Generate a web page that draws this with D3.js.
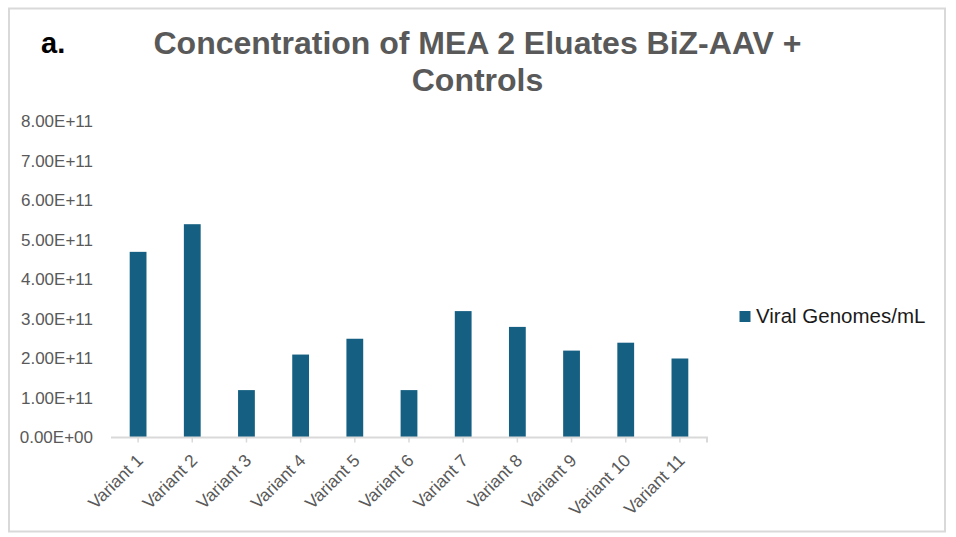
<!DOCTYPE html>
<html><head><meta charset="utf-8">
<script src="https://cdn.jsdelivr.net/npm/d3@7"></script>
<style>body{margin:0;background:#fff;}svg{display:block;}</style>
</head><body>
<script>
const categories = ["Variant 1","Variant 2","Variant 3","Variant 4","Variant 5","Variant 6","Variant 7","Variant 8","Variant 9","Variant 10","Variant 11"];
const values = [4.7e11,5.4e11,1.2e11,2.1e11,2.5e11,1.2e11,3.2e11,2.8e11,2.2e11,2.4e11,2.0e11];
const yTicks = [0,1e11,2e11,3e11,4e11,5e11,6e11,7e11,8e11];
const seriesName = "Viral Genomes/mL";
const titleLines = ["Concentration of MEA 2 Eluates BiZ-AAV +","Controls"];
const panelLabel = "a.";

const W=956,H=537;
const svg=d3.select("body").append("svg").attr("width",W).attr("height",H);
svg.append("rect").attr("x",9).attr("y",8.5).attr("width",936).attr("height",523)
  .attr("fill","#fff").attr("stroke","#d9d9d9").attr("stroke-width",2);

const x=d3.scaleBand().domain(categories).range([111,707]).paddingInner(0.69).paddingOuter(0.345);
const y=d3.scaleLinear().domain([0,8e11]).range([437.5,121.5]);

svg.append("g").selectAll("rect").data(values).join("rect")
  .attr("x",(d,i)=>x(categories[i])).attr("width",x.bandwidth())
  .attr("y",d=>y(d)).attr("height",d=>y(0)-y(d)).attr("fill","#156082");

const fmt=v=>{ if(v===0) return "0.00E+00"; const e=Math.floor(Math.log10(v)); return (v/Math.pow(10,e)).toFixed(2)+"E+"+String(e).padStart(2,"0"); };
const ya=svg.append("g").attr("transform","translate(93,0)")
  .call(d3.axisLeft(y).tickValues(yTicks).tickFormat(fmt).tickSize(0).tickPadding(0));
ya.select(".domain").remove();
ya.selectAll("text").attr("font-family","Liberation Sans, Arial, sans-serif").attr("font-size",17).attr("fill","#595959");

const xa=svg.append("g").attr("transform","translate(0,437.5)")
  .call(d3.axisBottom(x).tickSize(5).tickSizeOuter(5).tickPadding(0));
xa.select(".domain").attr("stroke","#d9d9d9").attr("stroke-width",2).attr("d","M111,0H707V5");
xa.selectAll(".tick line").attr("stroke","#d9d9d9").attr("stroke-width",1.5);
xa.selectAll("text").attr("font-family","Liberation Sans, Arial, sans-serif").attr("font-size",17.5).attr("fill","#595959")
  .attr("text-anchor","end").attr("dy","0").attr("y",0)
  .attr("transform","translate(6,24) rotate(-45)");

svg.append("text").attr("x",477.5).attr("text-anchor","middle")
  .attr("font-family","Liberation Sans, Arial, sans-serif").attr("font-weight","bold").attr("font-size",32).attr("fill","#595959")
  .selectAll("tspan").data(titleLines).join("tspan").attr("x",477.5).attr("y",(d,i)=>54+i*37).text(d=>d);

svg.append("text").attr("x",41).attr("y",53).attr("font-family","Liberation Sans, Arial, sans-serif")
  .attr("font-weight","bold").attr("font-size",29).attr("fill","#000").text(panelLabel);

const lg=svg.append("g");
lg.append("rect").attr("x",739.5).attr("y",311).attr("width",11).attr("height",11).attr("fill","#156082");
lg.append("text").attr("x",756).attr("y",322.5).attr("font-family","Liberation Sans, Arial, sans-serif")
  .attr("font-size",20.5).attr("fill","#1a1a1a").text(seriesName);
</script>
</body></html>
